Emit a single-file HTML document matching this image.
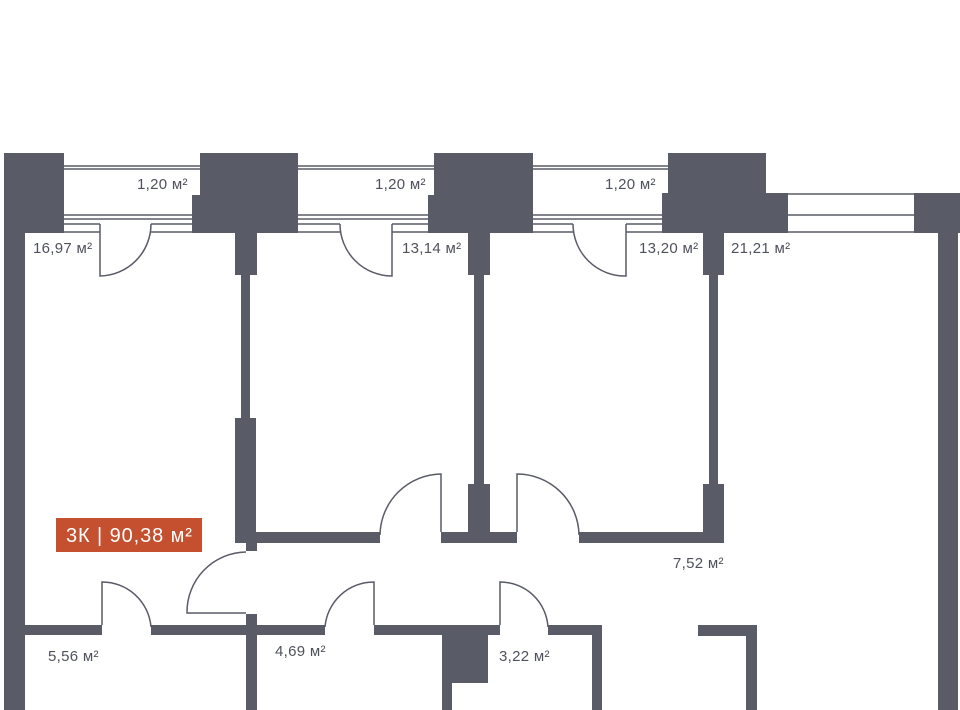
<!DOCTYPE html>
<html><head><meta charset="utf-8"><style>
html,body{margin:0;padding:0;background:#fff;width:960px;height:710px;overflow:hidden}
svg{display:block}
text{font-family:"Liberation Sans",sans-serif;font-size:15px;fill:#4f525c;letter-spacing:0.3px}
</style></head><body>
<svg width="960" height="710" viewBox="0 0 960 710" xmlns="http://www.w3.org/2000/svg">
<g fill="#595b66">
<rect x="4" y="153" width="60" height="80"/>
<rect x="4" y="233" width="21" height="477"/>
<rect x="200" y="153" width="98" height="80"/>
<rect x="192" y="195" width="10" height="38"/>
<rect x="434" y="153" width="99" height="80"/>
<rect x="428" y="195" width="8" height="38"/>
<rect x="668" y="153" width="98" height="42"/>
<rect x="662" y="193" width="126" height="40"/>
<rect x="914" y="193" width="46" height="40"/>
<rect x="938" y="233" width="20" height="477"/>
<rect x="235" y="233" width="22" height="42"/>
<rect x="241" y="275" width="9" height="145"/>
<rect x="235" y="418" width="21" height="125"/>
<rect x="246" y="540" width="11" height="11"/>
<rect x="468" y="233" width="22" height="42"/>
<rect x="474" y="275" width="10" height="210"/>
<rect x="468" y="484" width="22" height="59"/>
<rect x="703" y="233" width="21" height="42"/>
<rect x="709" y="275" width="9" height="210"/>
<rect x="703" y="484" width="21" height="59"/>
<rect x="255" y="532" width="125" height="11"/>
<rect x="441" y="532" width="76" height="11"/>
<rect x="579" y="532" width="145" height="11"/>
<rect x="25" y="625" width="77" height="10"/>
<rect x="151" y="625" width="106" height="10"/>
<rect x="246" y="614" width="11" height="96"/>
<rect x="257" y="625" width="68" height="10"/>
<rect x="374" y="625" width="126" height="10"/>
<rect x="548" y="625" width="54" height="10"/>
<rect x="592" y="625" width="10" height="85"/>
<rect x="442" y="625" width="46" height="58"/>
<rect x="442" y="683" width="10" height="27"/>
<rect x="698" y="625" width="59" height="11"/>
<rect x="746" y="625" width="11" height="85"/>
</g>
<g stroke="#595b66" stroke-width="1.5" fill="none">
<path d="M64 166H200M64 169H200M64 215H192M64 219H192M64 224H100M151 224H192M64 232H100M151 232H192"/>
<path d="M298 166H434M298 169H434M298 215H428M298 219H428M298 224H340M392 224H428M298 232H340M392 232H428"/>
<path d="M533 166H668M533 169H668M533 215H662M533 219H662M533 224H573M626 224H662M533 232H573M626 232H662"/>
<path d="M788 194H914M788 215H914M788 232H914"/>
<path d="M100 224V276A52 52 0 0 0 151 224"/>
<path d="M392 224V276A52 52 0 0 1 340 224"/>
<path d="M626 224V276A52 52 0 0 1 573 224"/>
<path d="M441 532V474A62 62 0 0 0 380 535"/>
<path d="M517 532V474A62 62 0 0 1 579 535"/>
<path d="M246 613H187A60 60 0 0 1 246 552"/>
<path d="M102 625V582A49 49 0 0 1 151 627"/>
<path d="M374 625V582A49 49 0 0 0 325 627"/>
<path d="M500 625V582A48 48 0 0 1 548 627"/>
</g>
<rect x="56" y="518" width="146" height="34" fill="#c4502f"/>
<text x="66" y="542" style="font-size:20px;fill:#fff;letter-spacing:0.9px">3К | 90,38 м²</text>
<text x="137" y="189">1,20 м²</text>
<text x="375" y="189">1,20 м²</text>
<text x="605" y="189">1,20 м²</text>
<text x="33" y="253">16,97 м²</text>
<text x="402" y="253">13,14 м²</text>
<text x="639" y="253">13,20 м²</text>
<text x="731" y="253">21,21 м²</text>
<text x="673" y="568">7,52 м²</text>
<text x="48" y="661">5,56 м²</text>
<text x="275" y="656">4,69 м²</text>
<text x="499" y="661">3,22 м²</text>
</svg>
</body></html>
